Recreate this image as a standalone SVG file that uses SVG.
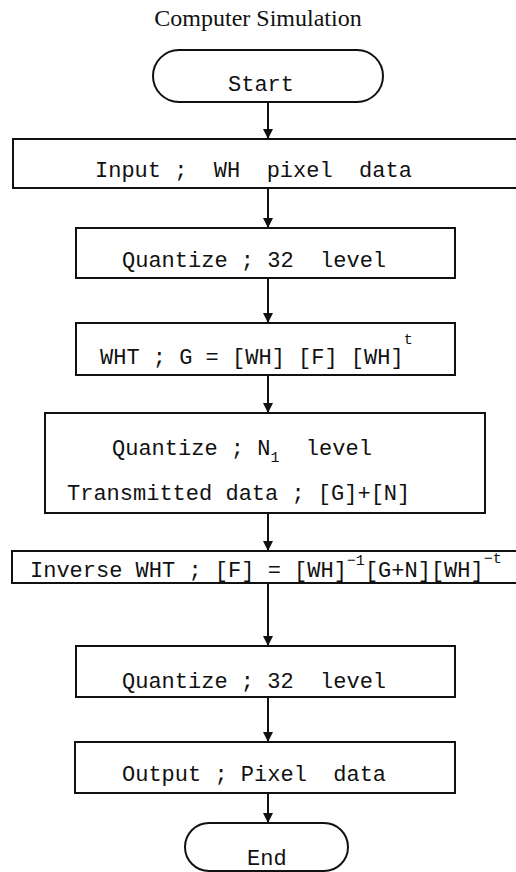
<svg xmlns="http://www.w3.org/2000/svg" width="516" height="872" viewBox="0 0 516 872">
<style>
.box{fill:none;stroke:#111;stroke-width:2}
.t{font-family:"Liberation Mono","DejaVu Sans Mono",monospace;font-size:22px;fill:#111}
.s{font-size:15px}
.title{font-family:"Liberation Serif","Times New Roman",serif;font-size:24px;fill:#111}
.c{stroke:#111;stroke-width:2;fill:none}
</style>
<defs>
<marker id="ah" viewBox="0 0 10 12" refX="10" refY="6" markerWidth="10" markerHeight="12" markerUnits="userSpaceOnUse" orient="auto">
<path d="M0,1 L10,6 L0,11 Z" fill="#111"/>
</marker>
</defs>
<text class="title" x="258" y="26" text-anchor="middle">Computer Simulation</text>
<g id="start">
<rect class="box" x="153" y="50" width="230" height="52" rx="26" ry="26"/>
<text class="t" x="228" y="91">Start</text>
</g>
<g id="input">
<rect class="box" x="13" y="139" width="510" height="49"/>
<text class="t" x="95" y="177" xml:space="preserve">Input ;  WH  pixel  data</text>
</g>
<g id="quant1">
<rect class="box" x="76" y="228" width="379" height="50"/>
<text class="t" x="122" y="267" xml:space="preserve">Quantize ; 32  level</text>
</g>
<g id="wht">
<rect class="box" x="76" y="323" width="379" height="52"/>
<text class="t" x="100" y="364" xml:space="preserve">WHT ; G = [WH] [F] [WH]<tspan class="s" dy="-20">t</tspan></text>
</g>
<g id="quantN">
<rect class="box" x="45" y="413" width="440" height="100"/>
<text class="t" x="112" y="455" xml:space="preserve">Quantize ; N<tspan class="s" dy="7">1</tspan><tspan dy="-7">  level</tspan></text>
<text class="t" x="67" y="500" xml:space="preserve">Transmitted data ; [G]+[N]</text>
</g>
<g id="inverse">
<rect class="box" x="12" y="551" width="510" height="32"/>
<text class="t" x="30" y="577" xml:space="preserve">Inverse WHT ; [F] = [WH]<tspan class="s" dy="-12">−1</tspan><tspan dy="12">[G+N][WH]</tspan><tspan class="s" dy="-14">−t</tspan></text>
</g>
<g id="quant2">
<rect class="box" x="76" y="646" width="379" height="51"/>
<text class="t" x="122" y="688" xml:space="preserve">Quantize ; 32  level</text>
</g>
<g id="output">
<rect class="box" x="75" y="742" width="380" height="51"/>
<text class="t" x="122" y="781" xml:space="preserve">Output ; Pixel  data</text>
</g>
<g id="end">
<rect class="box" x="185" y="823" width="163" height="48" rx="24" ry="24"/>
<text class="t" x="247" y="865">End</text>
</g>
<g id="connectors">
<line class="c" x1="268" y1="102" x2="268" y2="139" marker-end="url(#ah)"/>
<line class="c" x1="268" y1="188" x2="268" y2="228" marker-end="url(#ah)"/>
<line class="c" x1="268" y1="278" x2="268" y2="323" marker-end="url(#ah)"/>
<line class="c" x1="268" y1="375" x2="268" y2="413" marker-end="url(#ah)"/>
<line class="c" x1="268" y1="513" x2="268" y2="551" marker-end="url(#ah)"/>
<line class="c" x1="268" y1="583" x2="268" y2="646" marker-end="url(#ah)"/>
<line class="c" x1="268" y1="697" x2="268" y2="742" marker-end="url(#ah)"/>
<line class="c" x1="268" y1="793" x2="268" y2="823" marker-end="url(#ah)"/>
</g>
</svg>
